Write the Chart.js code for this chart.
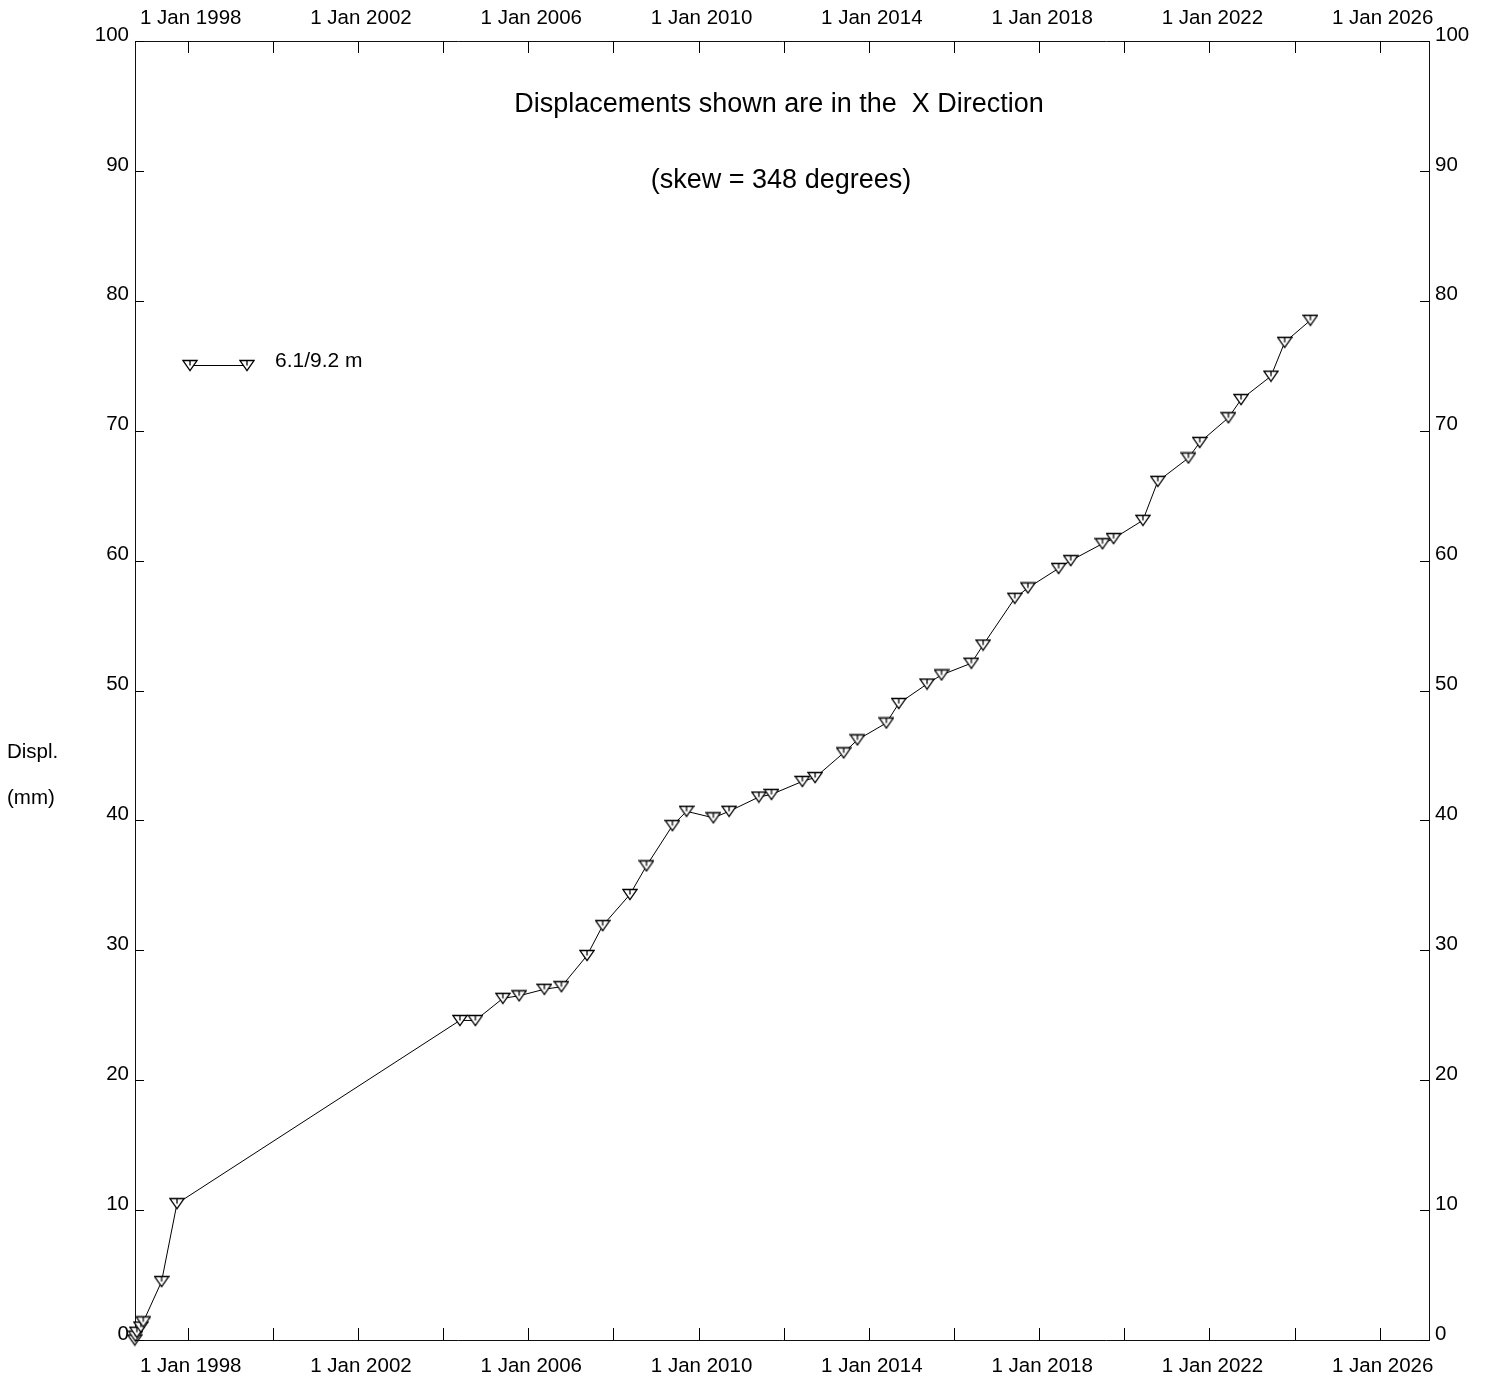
<!DOCTYPE html>
<html>
<head>
<meta charset="utf-8">
<script src="https://cdn.jsdelivr.net/npm/chart.js@4.4.1/dist/chart.umd.min.js"></script>
<style>
html,body{margin:0;padding:0;background:#fff;}
#wrap{width:1489px;height:1380px;position:relative;}
canvas{display:block;}
</style>
</head>
<body>
<div id="wrap"><canvas id="c" width="1489" height="1380"></canvas></div>
<script>
// ---------- data ----------
const seriesLabel = '6.1/9.2 m';
const surveyDates = [
  '1996-10-04','1996-10-10','1996-10-22','1996-11-25','1996-12-16','1997-05-22','1997-10-01',
  '2004-05-24','2004-10-04','2005-05-28','2005-10-15','2006-05-19','2006-10-12',
  '2007-05-20','2007-10-01','2008-05-22','2008-10-11','2009-05-22','2009-09-20',
  '2010-05-08','2010-09-20','2011-06-02','2011-09-18','2012-06-09','2012-09-27',
  '2013-05-30','2013-09-25','2014-05-31','2014-09-14','2015-05-15','2015-09-16',
  '2016-05-29','2016-09-07','2017-06-06','2017-09-27','2018-06-17','2018-09-29',
  '2019-06-28','2019-10-01','2020-06-09','2020-10-15','2021-07-05','2021-10-10',
  '2022-06-13','2022-09-29','2023-06-13','2023-10-08','2024-05-16'
];
const displacementMm = [
  0.0, 0.3, 0.6, 1.0, 1.4, 4.5, 10.5,
  24.6, 24.6, 26.3, 26.5, 27.0, 27.2,
  29.6, 31.9, 34.3, 36.5, 39.6, 40.7,
  40.2, 40.7, 41.8, 42.0, 43.0, 43.3,
  45.2, 46.2, 47.5, 49.0, 50.5, 51.2,
  52.1, 53.5, 57.1, 57.9, 59.4, 60.0,
  61.3, 61.7, 63.1, 66.1, 67.9, 69.1,
  71.0, 72.4, 74.2, 76.8, 78.5
];
const xRangeYears = [1996.762, 2027.158];
const xTickYears = [1998,2000,2002,2004,2006,2008,2010,2012,2014,2016,2018,2020,2022,2024,2026];
const xLabelYears = [1998,2002,2006,2010,2014,2018,2022,2026];
const yRange = [0, 100];
const yStep = 10;
const titleLines = ['Displacements shown are in the  X Direction', '(skew = 348 degrees)'];
const yTitleLines = ['Displ.', '(mm)'];

// ---------- helpers ----------
function decYear(s){
  const [y,m,d] = s.split('-').map(Number);
  const t = Date.UTC(y,m-1,d), t0 = Date.UTC(y,0,1), t1 = Date.UTC(y+1,0,1);
  return y + (t - t0) / (t1 - t0);
}
const points = surveyDates.map((s,i)=>({x:decYear(s), y:displacementMm[i]}));

const FONT = "'Liberation Sans', Arial, sans-serif";

// marker: down triangle with a tick from top edge to centre
function makeMarker(){
  const c = document.createElement('canvas');
  c.width = 16; c.height = 13;
  const g = c.getContext('2d');
  g.lineWidth = 1.3;
  g.strokeStyle = '#000';
  g.fillStyle = '#fff';
  g.lineJoin = 'miter';
  g.beginPath();
  g.moveTo(1, 1.5); g.lineTo(15, 1.5); g.lineTo(8, 11.5); g.closePath();
  g.fill(); g.stroke();
  g.beginPath();
  g.moveTo(8, 1.5); g.lineTo(8, 6.5); g.stroke();
  return c;
}
const marker = makeMarker();

const overlay = {
  id: 'overlay',
  afterDraw(chart){
    const ctx = chart.ctx;
    const ca = chart.chartArea;
    const xs = chart.scales.x, ys = chart.scales.y;
    ctx.save();
    ctx.strokeStyle = '#000';
    ctx.lineWidth = 1;
    // x ticks (inward, bottom & top)
    xTickYears.forEach(v=>{
      const px = Math.round(xs.getPixelForValue(v)) + 0.5;
      ctx.beginPath();
      ctx.moveTo(px, ca.bottom); ctx.lineTo(px, ca.bottom - 12);
      ctx.moveTo(px, ca.top); ctx.lineTo(px, ca.top + 12);
      ctx.stroke();
    });
    // y ticks (inward, left & right)
    for (let v = yRange[0]; v <= yRange[1]; v += yStep){
      const py = Math.round(ys.getPixelForValue(v)) + 0.5;
      ctx.beginPath();
      ctx.moveTo(ca.left, py); ctx.lineTo(ca.left + 9, py);
      ctx.moveTo(ca.right, py); ctx.lineTo(ca.right - 9, py);
      ctx.stroke();
    }
    // titles
    ctx.fillStyle = '#000';
    ctx.textAlign = 'center';
    ctx.textBaseline = 'middle';
    ctx.font = '27px ' + FONT;
    const cx = (ca.left + ca.right) / 2;
    ctx.fillText(titleLines[0], cx - 3, 105);
    ctx.fillText(titleLines[1], cx - 1, 181);
    // y title
    ctx.font = '20.5px ' + FONT;
    ctx.textAlign = 'left';
    ctx.fillText(yTitleLines[0], 7, 752);
    ctx.fillText(yTitleLines[1], 7, 798);
    // legend
    ctx.beginPath();
    ctx.moveTo(190, 365.5); ctx.lineTo(247, 365.5); ctx.stroke();
    ctx.drawImage(marker, 190 - 8, 365.5 - 6.5);
    ctx.drawImage(marker, 247 - 8, 365.5 - 6.5);
    ctx.font = '21px ' + FONT;
    ctx.fillText(chart.data.datasets[0].label, 275, 361);
    ctx.restore();
  }
};

function xAxis(pos, h, pad){
  return {
    type: 'linear', position: pos,
    min: xRangeYears[0], max: xRangeYears[1],
    grid: {display: false},
    border: {display: true, color: '#111', width: 1},
    afterBuildTicks: s => { s.ticks = xTickYears.map(v=>({value:v})); },
    afterFit: s => { s.height = h; },
    ticks: {
      autoSkip: false, maxRotation: 0, minRotation: 0,
      color: '#000', font: {family: FONT, size: 20.5},
      padding: pad, labelOffset: 3,
      callback: v => xLabelYears.includes(v) ? '1 Jan ' + v : ''
    }
  };
}
function yAxis(pos, w, pad){
  return {
    type: 'linear', position: pos,
    min: yRange[0], max: yRange[1],
    grid: {display: false},
    border: {display: true, color: '#111', width: 1},
    afterFit: s => { s.width = w; },
    ticks: {
      stepSize: yStep, autoSkip: false,
      color: '#000', font: {family: FONT, size: 20.5},
      padding: pad, labelOffset: -6,
      callback: v => String(v)
    }
  };
}

new Chart(document.getElementById('c'), {
  type: 'line',
  data: {
    datasets: [{
      label: seriesLabel,
      data: points,
      borderColor: '#000',
      borderWidth: 1,
      pointStyle: marker,
      pointRadius: 6,
      pointHoverRadius: 6,
      tension: 0,
      fill: false,
      clip: false
    }]
  },
  options: {
    responsive: false,
    animation: false,
    devicePixelRatio: 1,
    layout: {padding: 0},
    plugins: {legend: {display: false}, tooltip: {enabled: false}, title: {display: false}},
    scales: {
      x: xAxis('bottom', 40, 6),
      x2: xAxis('top', 41, 2),
      y: yAxis('left', 135, -2),
      y2: yAxis('right', 60, -2)
    }
  },
  plugins: [overlay]
});
</script>
</body>
</html>
